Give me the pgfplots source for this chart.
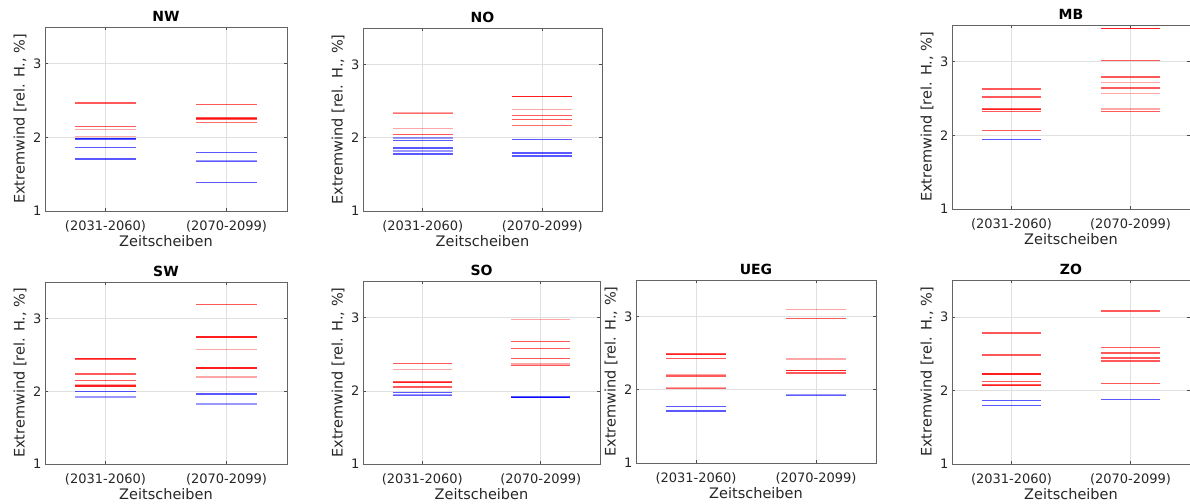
\documentclass[border=0pt]{standalone}
\usepackage{fontspec}
\setmainfont{DejaVu Sans}
\usepackage{pgfplots}
\pgfplotsset{compat=1.18}
\definecolor{axgray}{RGB}{100,100,100}
\definecolor{txtgray}{RGB}{38,38,38}
\pgfplotsset{
  myax/.style={
    scale only axis,
    xmin=0.5, xmax=2.5, ymin=1, ymax=3.5,
    xtick={1,2}, xticklabels={(2031-2060),(2070-2099)},
    ytick={1,2,3},
    /pgf/number format/assume math mode=true,
    grid=major,
    major grid style={color=black!12, line width=0.6pt},
    axis line style={color=axgray, line width=0.7pt},
    tick style={color=black!70, line width=0.6pt},
    tick align=inside,
    major tick length=3pt,
    ticklabel style={font=\fontsize{13}{15}\selectfont, text=txtgray},
    xticklabel style={yshift=-6pt},
    xlabel={Zeitscheiben},
    ylabel={Extremwind [rel. H., \%]},
    label style={font=\fontsize{14.5}{16}\selectfont, text=txtgray},
    xlabel style={at={(axis description cs:0.5,0)}, anchor=north, yshift=-21pt},
    ylabel style={at={(axis description cs:0,0.5)}, anchor=south, rotate=0, yshift=15pt},
    title style={font=\bfseries\fontsize{14}{16}\selectfont, at={(axis description cs:0.5,1)}, anchor=south, yshift=-4pt},
  },
  R/.style={red, draw opacity=0.65, line width=1.4pt, forget plot, mark=none},
  P/.style={red, draw opacity=0.35, line width=1.4pt, forget plot, mark=none},
  B/.style={blue, draw opacity=0.65, line width=1.4pt, forget plot, mark=none},
  LB/.style={blue, draw opacity=0.4, line width=1.4pt, forget plot, mark=none},
}
\begin{document}
\begin{tikzpicture}
\useasboundingbox (0pt,0pt) rectangle (1190pt,503pt);
% NW
\begin{axis}[myax, at={(45pt,292pt)}, anchor=south west, width=242pt, height=184pt, title={NW}]
\addplot[R] coordinates {(0.75,2.467) (1.25,2.467)};
\addplot[R] coordinates {(0.75,2.151) (1.25,2.151)};
\addplot[P] coordinates {(0.75,2.105) (1.25,2.105)};
\addplot[P] coordinates {(0.75,2.015) (1.25,2.015)};
\addplot[B] coordinates {(0.75,1.982) (1.25,1.982)};
\addplot[B] coordinates {(0.75,1.978) (1.25,1.978)};
\addplot[B] coordinates {(0.75,1.863) (1.25,1.863)};
\addplot[B] coordinates {(0.75,1.707) (1.25,1.707)};
\addplot[R] coordinates {(1.75,2.449) (2.25,2.449)};
\addplot[R] coordinates {(1.75,2.262) (2.25,2.262)};
\addplot[R] coordinates {(1.75,2.255) (2.25,2.255)};
\addplot[R] coordinates {(1.75,2.250) (2.25,2.250)};
\addplot[P] coordinates {(1.75,2.200) (2.25,2.200)};
\addplot[P] coordinates {(1.75,2.205) (2.25,2.205)};
\addplot[B] coordinates {(1.75,1.794) (2.25,1.794)};
\addplot[LB] coordinates {(1.75,1.680) (2.25,1.680)};
\addplot[LB] coordinates {(1.75,1.675) (2.25,1.675)};
\addplot[B] coordinates {(1.75,1.391) (2.25,1.391)};
\end{axis}
% NO
\begin{axis}[myax, at={(363pt,292pt)}, anchor=south west, width=239pt, height=183pt, title={NO}]
\addplot[P] coordinates {(0.75,2.339) (1.25,2.339)};
\addplot[P] coordinates {(0.75,2.335) (1.25,2.335)};
\addplot[P] coordinates {(0.75,2.128) (1.25,2.128)};
\addplot[R] coordinates {(0.75,2.041) (1.25,2.041)};
\addplot[LB] coordinates {(0.75,1.995) (1.25,1.995)};
\addplot[B] coordinates {(0.75,1.963) (1.25,1.963)};
\addplot[B] coordinates {(0.75,1.863) (1.25,1.863)};
\addplot[LB] coordinates {(0.75,1.817) (1.25,1.817)};
\addplot[B] coordinates {(0.75,1.780) (1.25,1.780)};
\addplot[R] coordinates {(1.75,2.567) (2.25,2.567)};
\addplot[R] coordinates {(1.75,2.565) (2.25,2.565)};
\addplot[P] coordinates {(1.75,2.384) (2.25,2.384)};
\addplot[R] coordinates {(1.75,2.302) (2.25,2.302)};
\addplot[R] coordinates {(1.75,2.247) (2.25,2.247)};
\addplot[P] coordinates {(1.75,2.169) (2.25,2.169)};
\addplot[P] coordinates {(1.75,2.165) (2.25,2.165)};
\addplot[B] coordinates {(1.75,1.973) (2.25,1.973)};
\addplot[B] coordinates {(1.75,1.794) (2.25,1.794)};
\addplot[B] coordinates {(1.75,1.753) (2.25,1.753)};
\end{axis}
% MB
\begin{axis}[myax, at={(952pt,294pt)}, anchor=south west, width=238pt, height=184pt, title={MB}]
\addplot[R] coordinates {(0.75,2.629) (1.25,2.629)};
\addplot[R] coordinates {(0.75,2.521) (1.25,2.521)};
\addplot[R] coordinates {(0.75,2.357) (1.25,2.357)};
\addplot[R] coordinates {(0.75,2.352) (1.25,2.352)};
\addplot[R] coordinates {(0.75,2.324) (1.25,2.324)};
\addplot[R] coordinates {(0.75,2.063) (1.25,2.063)};
\addplot[B] coordinates {(0.75,1.942) (1.25,1.942)};
\addplot[R] coordinates {(1.75,3.456) (2.25,3.456)};
\addplot[R] coordinates {(1.75,3.452) (2.25,3.452)};
\addplot[R] coordinates {(1.75,3.020) (2.25,3.020)};
\addplot[R] coordinates {(1.75,2.791) (2.25,2.791)};
\addplot[P] coordinates {(1.75,2.719) (2.25,2.719)};
\addplot[R] coordinates {(1.75,2.643) (2.25,2.643)};
\addplot[P] coordinates {(1.75,2.571) (2.25,2.571)};
\addplot[P] coordinates {(1.75,2.357) (2.25,2.357)};
\addplot[R] coordinates {(1.75,2.324) (2.25,2.324)};
\end{axis}
% SW
\begin{axis}[myax, at={(45pt,39pt)}, anchor=south west, width=242pt, height=182pt, title={SW}]
\addplot[R] coordinates {(0.75,2.447) (1.25,2.447)};
\addplot[R] coordinates {(0.75,2.443) (1.25,2.443)};
\addplot[R] coordinates {(0.75,2.237) (1.25,2.237)};
\addplot[R] coordinates {(0.75,2.151) (1.25,2.151)};
\addplot[P] coordinates {(0.75,2.091) (1.25,2.091)};
\addplot[R] coordinates {(0.75,2.073) (1.25,2.073)};
\addplot[R] coordinates {(0.75,2.070) (1.25,2.070)};
\addplot[B] coordinates {(0.75,2.000) (1.25,2.000)};
\addplot[LB] coordinates {(0.75,1.918) (1.25,1.918)};
\addplot[R] coordinates {(1.75,3.192) (2.25,3.192)};
\addplot[R] coordinates {(1.75,2.744) (2.25,2.744)};
\addplot[R] coordinates {(1.75,2.742) (2.25,2.742)};
\addplot[P] coordinates {(1.75,2.575) (2.25,2.575)};
\addplot[R] coordinates {(1.75,2.320) (2.25,2.320)};
\addplot[R] coordinates {(1.75,2.318) (2.25,2.318)};
\addplot[P] coordinates {(1.75,2.196) (2.25,2.196)};
\addplot[B] coordinates {(1.75,1.959) (2.25,1.959)};
\addplot[LB] coordinates {(1.75,1.826) (2.25,1.826)};
\end{axis}
% SO
\begin{axis}[myax, at={(363pt,39pt)}, anchor=south west, width=237pt, height=183pt, title={SO}]
\addplot[R] coordinates {(0.75,2.370) (1.25,2.370)};
\addplot[P] coordinates {(0.75,2.292) (1.25,2.292)};
\addplot[R] coordinates {(0.75,2.121) (1.25,2.121)};
\addplot[R] coordinates {(0.75,2.117) (1.25,2.117)};
\addplot[R] coordinates {(0.75,2.050) (1.25,2.050)};
\addplot[B] coordinates {(0.75,1.973) (1.25,1.973)};
\addplot[LB] coordinates {(0.75,1.940) (1.25,1.940)};
\addplot[LB] coordinates {(0.75,1.936) (1.25,1.936)};
\addplot[P] coordinates {(1.75,2.977) (2.25,2.977)};
\addplot[R] coordinates {(1.75,2.671) (2.25,2.671)};
\addplot[R] coordinates {(1.75,2.575) (2.25,2.575)};
\addplot[R] coordinates {(1.75,2.438) (2.25,2.438)};
\addplot[P] coordinates {(1.75,2.365) (2.25,2.365)};
\addplot[R] coordinates {(1.75,2.342) (2.25,2.342)};
\addplot[B] coordinates {(1.75,1.913) (2.25,1.913)};
\addplot[B] coordinates {(1.75,1.911) (2.25,1.911)};
\addplot[B] coordinates {(1.75,1.909) (2.25,1.909)};
\end{axis}
% UEG
\begin{axis}[myax, at={(636pt,40pt)}, anchor=south west, width=240pt, height=183pt, title={UEG}]
\addplot[R] coordinates {(0.75,2.488) (1.25,2.488)};
\addplot[R] coordinates {(0.75,2.486) (1.25,2.486)};
\addplot[R] coordinates {(0.75,2.429) (1.25,2.429)};
\addplot[P] coordinates {(0.75,2.208) (1.25,2.208)};
\addplot[R] coordinates {(0.75,2.190) (1.25,2.190)};
\addplot[P] coordinates {(0.75,2.032) (1.25,2.032)};
\addplot[R] coordinates {(0.75,2.014) (1.25,2.014)};
\addplot[B] coordinates {(0.75,1.774) (1.25,1.774)};
\addplot[B] coordinates {(0.75,1.711) (1.25,1.711)};
\addplot[P] coordinates {(1.75,3.100) (2.25,3.100)};
\addplot[R] coordinates {(1.75,2.971) (2.25,2.971)};
\addplot[P] coordinates {(1.75,2.420) (2.25,2.420)};
\addplot[R] coordinates {(1.75,2.266) (2.25,2.266)};
\addplot[R] coordinates {(1.75,2.263) (2.25,2.263)};
\addplot[R] coordinates {(1.75,2.230) (2.25,2.230)};
\addplot[LB] coordinates {(1.75,1.930) (2.25,1.930)};
\addplot[LB] coordinates {(1.75,1.925) (2.25,1.925)};
\end{axis}
% ZO
\begin{axis}[myax, at={(952pt,39pt)}, anchor=south west, width=238pt, height=184pt, title={ZO}]
\addplot[R] coordinates {(0.75,2.778) (1.25,2.778)};
\addplot[R] coordinates {(0.75,2.481) (1.25,2.481)};
\addplot[R] coordinates {(0.75,2.225) (1.25,2.225)};
\addplot[R] coordinates {(0.75,2.223) (1.25,2.223)};
\addplot[R] coordinates {(0.75,2.117) (1.25,2.117)};
\addplot[R] coordinates {(0.75,2.072) (1.25,2.072)};
\addplot[R] coordinates {(0.75,2.070) (1.25,2.070)};
\addplot[B] coordinates {(0.75,1.861) (1.25,1.861)};
\addplot[B] coordinates {(0.75,1.793) (1.25,1.793)};
\addplot[R] coordinates {(1.75,3.079) (2.25,3.079)};
\addplot[R] coordinates {(1.75,2.580) (2.25,2.580)};
\addplot[R] coordinates {(1.75,2.508) (2.25,2.508)};
\addplot[R] coordinates {(1.75,2.440) (2.25,2.440)};
\addplot[R] coordinates {(1.75,2.400) (2.25,2.400)};
\addplot[R] coordinates {(1.75,2.090) (2.25,2.090)};
\addplot[B] coordinates {(1.75,1.874) (2.25,1.874)};
\end{axis}
\end{tikzpicture}
\end{document}
